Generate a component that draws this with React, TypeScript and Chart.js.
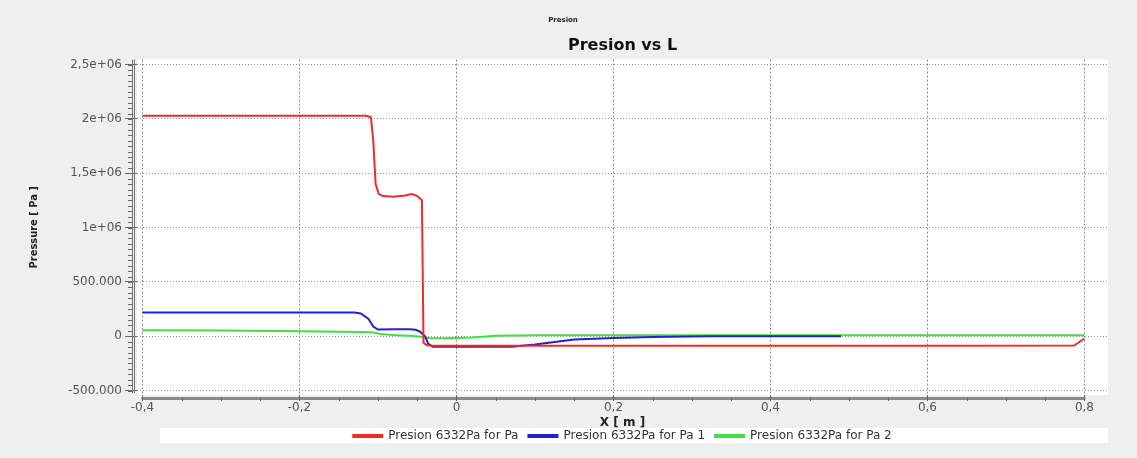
import React, { useEffect, useRef } from "react";
import { Chart, registerables } from "chart.js";
Chart.register(...registerables);

// ---- data ----
const seriesNames = ["Presion 6332Pa for Pa", "Presion 6332Pa for Pa 1", "Presion 6332Pa for Pa 2"];
const seriesColors = ["#f02a2a", "#2222c8", "#3fe03f"];

const redX = [-0.4, -0.115, -0.109, -0.106, -0.103, -0.099, -0.094, -0.08, -0.065, -0.057, -0.05, -0.046, -0.044, -0.042, -0.038, -0.032, 0.0, 0.2, 0.4, 0.6, 0.787, 0.8];
const redY = [2030000, 2030000, 2015000, 1800000, 1400000, 1310000, 1290000, 1285000, 1295000, 1310000, 1290000, 1265000, 1250000, -60000, -80000, -88000, -88000, -88000, -88000, -88000, -85000, -20000];

const blueX = [-0.4, -0.13, -0.122, -0.112, -0.106, -0.1, -0.08, -0.06, -0.052, -0.046, -0.04, -0.036, -0.03, 0.0, 0.07, 0.1, 0.15, 0.2, 0.25, 0.32, 0.49];
const blueY = [220000, 220000, 210000, 160000, 90000, 62000, 64000, 64000, 60000, 40000, 0, -70000, -95000, -95000, -95000, -75000, -30000, -15000, -6000, 0, 0];

const greenX = [-0.4, -0.3, -0.2, -0.12, -0.105, -0.095, -0.075, -0.06, -0.045, -0.035, -0.015, 0.02, 0.05, 0.1, 0.4, 0.8];
const greenY = [55000, 53000, 47000, 40000, 35000, 18000, 10000, 5000, -5000, -15000, -18000, -10000, 5000, 10000, 10000, 10000];

const xTickValues = [-0.4, -0.2, 0, 0.2, 0.4, 0.6, 0.8];
const xTickLabels = ["-0,4", "-0,2", "0", "0,2", "0,4", "0,6", "0,8"];
const yTickValues = [-500000, 0, 500000, 1000000, 1500000, 2000000, 2500000];
const yTickLabels = ["-500.000", "0", "500.000", "1e+06", "1,5e+06", "2e+06", "2,5e+06"];

const xRange = [-0.407, 0.83];
const yRange = [-540000, 2546000];
const xMinorStep = 0.05;
const yMinorStep = 50000;

const toPoints = (xs: number[], ys: number[]) => xs.map((x, i) => ({ x, y: ys[i] }));

const decorPlugin = {
  id: "decor",
  beforeDraw(chart: any) {
    const { ctx, chartArea, width, height } = chart;
    ctx.save();
    ctx.fillStyle = "#efefef";
    ctx.fillRect(0, 0, width, height);
    ctx.fillStyle = "#ffffff";
    ctx.fillRect(chartArea.left, chartArea.top, chartArea.right - chartArea.left, chartArea.bottom - chartArea.top);
    const lg = chart.legend;
    if (lg) {
      ctx.fillStyle = "#ffffff";
      ctx.fillRect(chartArea.left + 23, lg.top + 8, chartArea.right - chartArea.left - 23, 15);
    }
    ctx.restore();
  },
  afterDraw(chart: any) {
    const { ctx, chartArea, scales } = chart;
    const xs = scales.x, ys = scales.y;
    ctx.save();
    // y axis double line
    ctx.strokeStyle = "#777";
    ctx.lineWidth = 1;
    ctx.beginPath();
    ctx.moveTo(chartArea.left - 4.5, chartArea.top);
    ctx.lineTo(chartArea.left - 4.5, chartArea.bottom - 2);
    ctx.moveTo(chartArea.left - 2.5, chartArea.top);
    ctx.lineTo(chartArea.left - 2.5, chartArea.bottom - 2);
    ctx.stroke();
    // x axis bar
    ctx.strokeStyle = "#8a8a8a";
    ctx.lineWidth = 3;
    ctx.beginPath();
    ctx.moveTo(xs.getPixelForValue(xTickValues[0]) - 1, chartArea.bottom + 3.5);
    ctx.lineTo(xs.getPixelForValue(xTickValues[xTickValues.length - 1]) + 1, chartArea.bottom + 3.5);
    ctx.stroke();
    // minor ticks
    ctx.strokeStyle = "#666";
    ctx.lineWidth = 1;
    ctx.beginPath();
    for (let v = xTickValues[0]; v <= xTickValues[xTickValues.length - 1] + 1e-9; v += xMinorStep) {
      const px = Math.round(xs.getPixelForValue(v)) + 0.5;
      ctx.moveTo(px, chartArea.bottom + 2);
      ctx.lineTo(px, chartArea.bottom + 6);
    }
    for (let v = yTickValues[0]; v <= yTickValues[yTickValues.length - 1] + 1; v += yMinorStep) {
      const py = Math.round(ys.getPixelForValue(v)) + 0.5;
      ctx.moveTo(chartArea.left - 9, py);
      ctx.lineTo(chartArea.left - 4, py);
    }
    ctx.stroke();
    ctx.restore();
  },
};

export default function App() {
  const ref = useRef<HTMLCanvasElement | null>(null);
  useEffect(() => {
    document.body.style.margin = "0";
    if (!ref.current) return;
    const chart = new Chart(ref.current, {
      type: "line",
      data: {
        datasets: [
          { label: seriesNames[0], data: toPoints(redX, redY), borderColor: seriesColors[0], backgroundColor: seriesColors[0] },
          { label: seriesNames[1], data: toPoints(blueX, blueY), borderColor: seriesColors[1], backgroundColor: seriesColors[1] },
          { label: seriesNames[2], data: toPoints(greenX, greenY), borderColor: seriesColors[2], backgroundColor: seriesColors[2] },
        ],
      },
      options: {
        animation: false,
        responsive: false,
        maintainAspectRatio: false,
        elements: { point: { radius: 0 }, line: { borderWidth: 2, tension: 0 } },
        layout: { padding: { top: 16, bottom: 12, left: 18, right: 29 } },
        scales: {
          x: {
            type: "linear",
            min: xRange[0],
            max: xRange[1],
            afterBuildTicks: (s: any) => { s.ticks = xTickValues.map((v) => ({ value: v })); },
            afterFit: (s: any) => { s.height = 25; },
            ticks: {
              callback: (v: any) => { const i = xTickValues.findIndex((t) => Math.abs(t - v) < 1e-9); return i >= 0 ? xTickLabels[i] : ""; },
              font: { family: "DejaVu Sans", size: 12 },
              color: "#555",
              padding: 0,
              maxRotation: 0,
            },
            grid: { color: "#8c8c8c", tickLength: 6, tickColor: "#666", tickBorderDash: [] },
            border: { display: false, dash: [2, 2] },
            title: { display: true, text: "X [ m ]", font: { family: "DejaVu Sans", size: 12, weight: "bold" }, color: "#222", padding: { top: 0, bottom: -10 } },
          },
          y: {
            type: "linear",
            min: yRange[0],
            max: yRange[1],
            afterBuildTicks: (s: any) => { s.ticks = yTickValues.map((v) => ({ value: v })); },
            afterFit: (s: any) => { s.width = 119; },
            ticks: {
              callback: (v: any) => { const i = yTickValues.findIndex((t) => Math.abs(t - v) < 1); return i >= 0 ? yTickLabels[i] : ""; },
              font: { family: "DejaVu Sans", size: 12 },
              color: "#555",
              padding: 3,
            },
            grid: { color: "#9a9a9a", tickLength: 12, tickColor: "#666", tickBorderDash: [] },
            border: { display: false, dash: [1, 2] },
            title: { display: true, text: "Pressure [ Pa ]", font: { family: "DejaVu Sans Condensed", size: 11, weight: "bold" }, color: "#222", padding: { top: 10, bottom: 0 } },
          },
        },
        plugins: {
          title: { display: true, text: "Presion", font: { family: "DejaVu Sans", size: 7, weight: "bold" }, color: "#222", padding: { top: 0, bottom: 12 } },
          subtitle: { display: true, fullSize: false, text: "Presion vs L", font: { family: "DejaVu Sans", size: 16, weight: "bold" }, color: "#111", padding: { top: 0, bottom: 4 } },
          legend: {
            position: "bottom",
            fullSize: false,
            maxHeight: 26,
            labels: { boxWidth: 29, boxHeight: 2, font: { family: "DejaVu Sans", size: 12 }, color: "#333", padding: 10 },
          },
          tooltip: { enabled: false },
        },
      },
      plugins: [decorPlugin],
    } as any);
    return () => chart.destroy();
  }, []);
  return <canvas ref={ref} width={1137} height={458} style={{ display: "block" }} />;
}
